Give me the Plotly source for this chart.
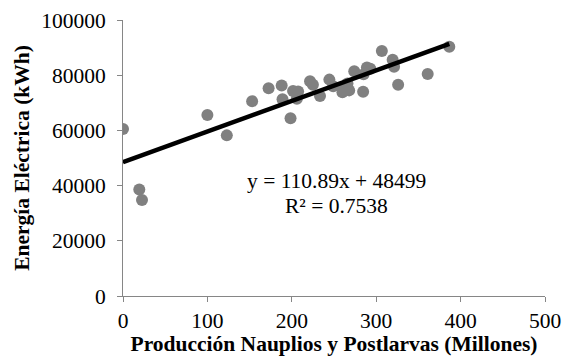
import plotly.graph_objects as go

# Data
produccion = [0, 19.3, 22.5, 100, 123, 153, 172.5, 188, 189, 198.5, 201.5, 207.5, 206,
              221.6, 225, 233.4, 244.5, 249, 260, 262, 266, 268, 274, 284.5, 285, 289,
              293, 306.7, 319.5, 321.2, 326, 361, 386.6]
energia = [60500, 38600, 34800, 65600, 58200, 70600, 75300, 76300, 71300, 64400, 74300, 74100,
           71500, 77800, 76500, 72500, 78400, 76000, 73800, 75500, 77000, 74500, 81400, 74000,
           80300, 82800, 82300, 88800, 85600, 83100, 76500, 80400, 90300]

slope = 110.89
intercept = 48499
r2 = 0.7538

x_ticks = [0, 100, 200, 300, 400, 500]
y_ticks = [0, 20000, 40000, 60000, 80000, 100000]

font_family = "Liberation Serif"

trend_x = [0, max(produccion)]
trend_y = [slope * v + intercept for v in trend_x]

fig = go.Figure()
fig.add_trace(go.Scatter(
    x=produccion, y=energia, mode="markers",
    marker=dict(color="#808080", size=12, line=dict(width=0)),
    showlegend=False,
))
fig.add_trace(go.Scatter(
    x=trend_x, y=trend_y, mode="lines",
    line=dict(color="#000000", width=4.5),
    showlegend=False,
))

fig.add_annotation(x=253.5, y=41500, xref="x", yref="y",
                   text=f"y = {slope}x + {intercept}", showarrow=False,
                   font=dict(family=font_family, size=21.5, color="#000000"))
fig.add_annotation(x=253.5, y=32600, xref="x", yref="y",
                   text=f"R² = {r2}", showarrow=False,
                   font=dict(family=font_family, size=21.5, color="#000000"))

fig.update_layout(
    width=567, height=356,
    margin=dict(l=123, r=22, t=20, b=60),
    paper_bgcolor="white", plot_bgcolor="white",
    font=dict(family=font_family, size=21.5, color="#000000"),
)
fig.update_xaxes(
    range=[0, 500], tickvals=x_ticks, ticktext=[str(v) for v in x_ticks],
    showgrid=False, zeroline=False, showline=True, linecolor="#868686", linewidth=1,
    ticks="outside", ticklen=5, tickcolor="#868686", automargin=False,
    tickfont=dict(family=font_family, size=21.5),
    title=dict(text="<b>Producción Nauplios y Postlarvas (Millones)</b>",
               font=dict(family=font_family, size=21.5), standoff=0),
)
fig.update_yaxes(
    range=[0, 100000], tickvals=y_ticks, ticktext=[str(v) for v in y_ticks],
    showgrid=False, zeroline=False, showline=True, linecolor="#868686", linewidth=1,
    ticks="outside", ticklen=5, tickcolor="#868686", automargin=False,
    ticklabelstandoff=7,
    tickfont=dict(family=font_family, size=21.5),
    title=dict(text="<b>Energía Eléctrica (kWh)</b>",
               font=dict(family=font_family, size=21.5), standoff=5),
)

fig.write_html("out.html")
